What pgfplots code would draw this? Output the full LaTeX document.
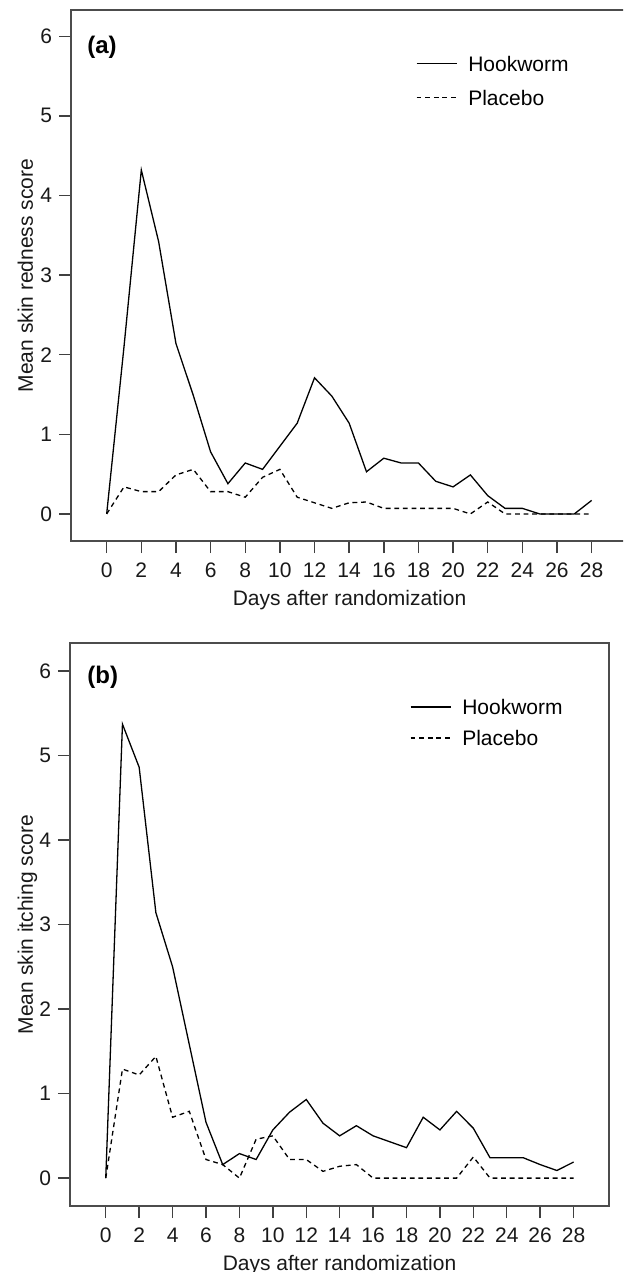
\documentclass[border=0pt]{standalone}
\usepackage{fontspec}
\setmainfont{Liberation Sans}
\usepackage{pgfplots}
\pgfplotsset{compat=1.18}

\pgfplotstableread{
x y
0 0
1 2.1
2 4.32
3 3.42
4 2.14
5 1.49
6 0.78
7 0.38
8 0.64
9 0.56
10 0.85
11 1.14
12 1.71
13 1.48
14 1.14
15 0.53
16 0.70
17 0.64
18 0.64
19 0.41
20 0.34
21 0.49
22 0.23
23 0.07
24 0.07
25 0
26 0
27 0
28 0.17
}\hookA
\pgfplotstableread{
x y
0 0
1 0.34
2 0.28
3 0.28
4 0.49
5 0.56
6 0.28
7 0.28
8 0.21
9 0.46
10 0.56
11 0.21
12 0.14
13 0.07
14 0.14
15 0.15
16 0.07
17 0.07
18 0.07
19 0.07
20 0.07
21 0
22 0.15
23 0
24 0
25 0
26 0
27 0
28 0
}\placA
\pgfplotstableread{
x y
0 0
1 5.37
2 4.86
3 3.14
4 2.50
5 1.58
6 0.66
7 0.16
8 0.29
9 0.22
10 0.57
11 0.78
12 0.93
13 0.65
14 0.50
15 0.62
16 0.50
17 0.43
18 0.36
19 0.72
20 0.57
21 0.79
22 0.59
23 0.24
24 0.24
25 0.24
26 0.16
27 0.09
28 0.19
}\hookB
\pgfplotstableread{
x y
0 0
1 1.29
2 1.22
3 1.44
4 0.72
5 0.79
6 0.22
7 0.16
8 0
9 0.46
10 0.50
11 0.22
12 0.22
13 0.08
14 0.14
15 0.16
16 0
17 0
18 0
19 0
20 0
21 0
22 0.25
23 0
24 0
25 0
26 0
27 0
28 0
}\placB

\newcommand{\lblfont}{\fontsize{10.5}{12.5}\selectfont}

\pgfplotsset{
  myax/.style={
    scale only axis,
    anchor=north west,
    axis line style={line width=0.9pt, black!70},
    tick style={line width=0.7pt, black!75},
    tick align=outside,
    xtick pos=left, ytick pos=left,
    major tick length=6pt,
    xtick={0,2,...,28}, ytick={0,1,...,6},
    xticklabels={0,2,4,6,8,10,12,14,16,18,20,22,24,26,28},
    yticklabels={0,1,2,3,4,5,6},
    every tick label/.append style={font=\lblfont, text=black!90},
    xticklabel style={font=\lblfont, yshift=-1.5pt},
    yticklabel style={font=\lblfont},
    label style={font=\fontsize{10.5}{12}\selectfont, text=black!90},
    xlabel={Days after randomization},
    xlabel style={at={(axis description cs:0.5,0)}, anchor=base, yshift=-32pt},
    legend cell align=left,
    legend image code/.code={\draw[#1] (0pt,0pt) -- (20pt,0pt);},
    legend style={draw=none, fill=none, inner sep=0pt, outer sep=0pt,
      column sep=5.5pt, font=\fontsize{10.5}{12}\selectfont,
      nodes={text height=7.5pt, text depth=0pt, inner sep=0pt}},
  },
  hw/.style={black, line width=0.65pt},
  pl/.style={black, line width=0.65pt, dash pattern=on 2.4pt off 1.9pt},
}

\begin{document}
\begin{tikzpicture}
\useasboundingbox (0,0) rectangle (311.5pt,-636pt);
\clip (0,0) rectangle (311.5pt,-636pt);

\begin{axis}[myax,
  at={(35.5pt,-5pt)},
  width=278.5pt, height=265.5pt,
  xmin=-2.06, xmax=30.1, ymin=-0.34, ymax=6.33,
  ylabel={Mean skin redness score},
  ylabel style={at={(axis description cs:0,0.5)}, anchor=base, yshift=19pt},
  legend style={at={(axis cs:17.86,5.75)}, anchor=north west, row sep=9.5pt},
]
\addplot[hw] table[x=x,y=y] {\hookA};
\addplot[pl] table[x=x,y=y] {\placA};
\legend{Hookworm, Placebo}
\node[anchor=west, inner sep=0pt, font=\fontsize{12}{14}\selectfont\bfseries] at (axis cs:-1.14,5.86) {(a)};
\end{axis}

\begin{axis}[myax,
  at={(35pt,-321.5pt)},
  width=269.5pt, height=281.5pt,
  xmin=-2.14, xmax=30.12, ymin=-0.33, ymax=6.33,
  ylabel={Mean skin itching score},
  ylabel style={at={(axis description cs:0,0.5)}, anchor=base, yshift=18.5pt},
  legend style={at={(axis cs:18.21,5.66)}, anchor=north west, row sep=8pt},
]
\addplot[hw] table[x=x,y=y] {\hookB};
\addplot[pl] table[x=x,y=y] {\placB};
\legend{Hookworm, Placebo}
\node[anchor=west, inner sep=0pt, font=\fontsize{12}{14}\selectfont\bfseries] at (axis cs:-1.12,5.92) {(b)};
\end{axis}
\end{tikzpicture}
\end{document}
